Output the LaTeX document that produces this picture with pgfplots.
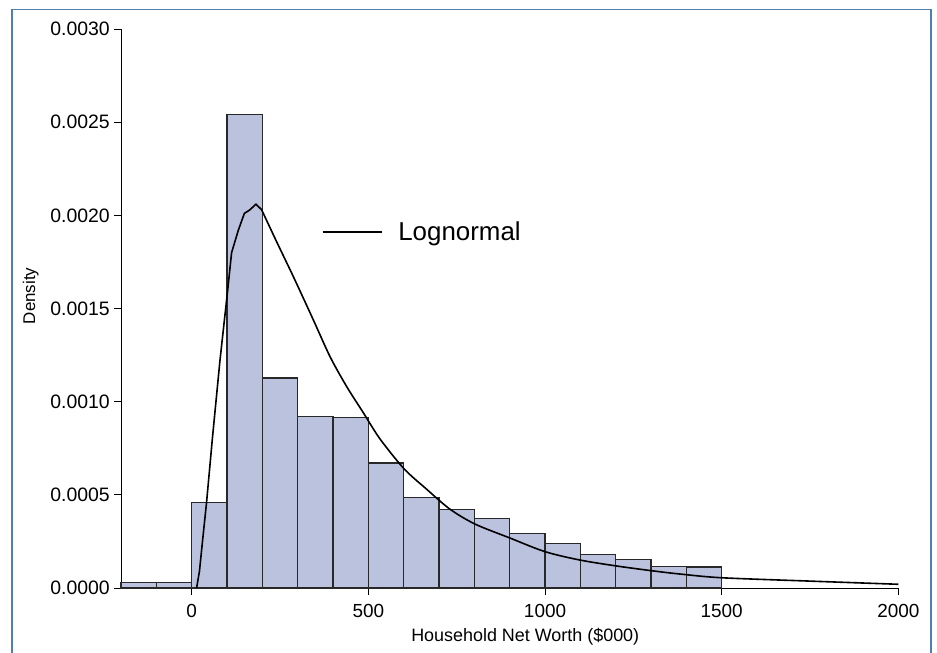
\documentclass[border=0pt]{standalone}
\usepackage{fontspec}
\setmainfont{Liberation Sans}
\usepackage{pgfplots}
\pgfplotsset{compat=1.18}
\definecolor{barfill}{RGB}{186,194,221}
\definecolor{baredge}{RGB}{40,40,40}
\definecolor{framecol}{RGB}{78,127,176}
\begin{document}
\begin{tikzpicture}
\useasboundingbox (0,0) rectangle (937bp,-653bp);
\draw[framecol, line width=1.8bp] (12bp,-700bp) -- (12bp,-9.5bp) -- (931bp,-9.5bp) -- (931bp,-700bp);
\begin{axis}[
  at={(121bp,-588bp)}, anchor=south west,
  scale only axis, width=777.4bp, height=559bp,
  xmin=-200, xmax=2000, ymin=0, ymax=0.003,
  axis x line*=bottom, axis y line*=left,
  axis line style={line width=0.9bp, black},
  tick align=outside, major tick length=7bp,
  tick style={line width=0.9bp, black},
  xtick={0,500,1000,1500,2000},
  ytick={0,0.0005,0.001,0.0015,0.002,0.0025,0.003},
  scaled y ticks=false,
  /pgf/number format/assume math mode=true,
  yticklabel style={/pgf/number format/.cd, fixed, fixed zerofill, precision=4, /tikz/.cd, font=\fontsize{19.5}{20}\selectfont, inner sep=2bp, xshift=-2bp},
  xticklabel style={/pgf/number format/.cd, fixed, set thousands separator={}, /tikz/.cd, font=\fontsize{19}{20}\selectfont, inner sep=2bp, yshift=-7bp},
  xlabel={Household Net Worth (\$000)},
  ylabel={Density},
  every axis x label/.style={at={(axis description cs:0.52,-0.0948)}, anchor=base, font=\fontsize{18}{20}\selectfont},
  every axis y label/.style={at={(axis description cs:-0.1106,0.5224)}, rotate=90, anchor=base, font=\fontsize{17}{20}\selectfont},
  legend style={draw=none, fill=none, at={(axis cs:368,0.001909)}, anchor=west, font=\fontsize{26}{28}\selectfont, inner sep=0pt, outer sep=0pt},
  legend cell align=left,
  legend image code/.code={\draw[#1] (0bp,0bp) -- (59bp,0bp);},
  clip=false,
]
\addplot[ybar interval, fill=barfill, draw=baredge, line width=1.2bp, forget plot] coordinates {
(-200,0.00003) (-100,0.00003) (0,0.000457) (100,0.00254) (200,0.001127)
(300,0.000922) (400,0.000913) (500,0.000671) (600,0.000486) (700,0.000422)
(800,0.000371) (900,0.000293) (1000,0.000237) (1100,0.000178) (1200,0.000155)
(1300,0.000114) (1400,0.000113) (1500,0)
};
\addplot[black, line width=1.6bp, sharp plot, no marks, forget plot] coordinates {
(14,0) (22,0.00009) (31,0.000257) (42,0.000457) (59,0.00081) (80,0.00122)
(102,0.0016) (113,0.0018) (132,0.00192) (149,0.00201) (165,0.00203)
(182,0.00206) (198,0.00203)
};
\addplot[black, line width=1.6bp, smooth, tension=0.5, no marks] coordinates {
(198,0.00203) (240,0.00186) (288,0.00167) (344,0.00144)
(392,0.00124) (439,0.00108) (486,0.00094) (533,0.00080) (601,0.00064)
(665,0.00053) (731,0.000423) (802,0.000343) (901,0.000268) (1000,0.000195)
(1099,0.00015) (1203,0.000118) (1302,0.0000927) (1382,0.000075)
(1500,0.000055) (1750,0.000037) (2000,0.00002)
};
\addlegendentry{\hspace{14bp}Lognormal}
\end{axis}
\end{tikzpicture}
\end{document}
